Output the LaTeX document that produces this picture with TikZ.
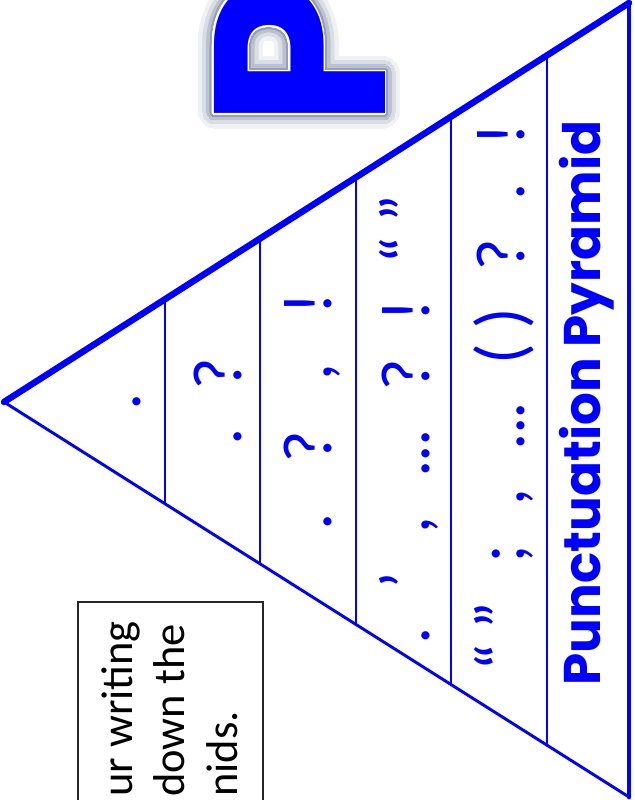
\documentclass[tikz,border=0pt]{standalone}
\usepackage{fontspec}
\usepackage{tikz}
\usetikzlibrary{positioning,calc}
\usepackage[copies]{contour}
\setmainfont{Poppins}
\newfontfamily\markfont{Lato}
\newfontfamily\notefont{Carlito}
\definecolor{pyrblue}{RGB}{0,0,255}
\definecolor{haze}{RGB}{150,160,178}
\contournumber{40}
\newcommand{\gp}{\hspace{0.62em}}
\newcommand{\wgp}{\hspace{0.8em}}

\begin{document}
\begin{tikzpicture}[x=0.03cm, y=-0.03cm, every node/.style={inner sep=0pt},
    rim/.style={draw=pyrblue, line width=5.5pt, line cap=round},
    side/.style={draw=pyrblue, line width=2.5pt, line cap=round},
    tier/.style={draw=pyrblue, line width=2pt},
    notebox/.style={draw=black!85, line width=2pt},
    markrow/.style={rotate=90, anchor=base, text=pyrblue, font=\markfont\fontsize{56}{60}\selectfont},
    bigletter/.style={rotate=90, anchor=base west, font=\fontsize{208}{208}\selectfont\bfseries}]
    \useasboundingbox (0,0) rectangle (635,800);
    \clip (0,0) rectangle (635,800);

    % big P with grey haze
    \node[bigletter, text=haze!15] (pglow) at (385,129) {\contourlength{13pt}\contour{haze!15}{P}};
    \node[bigletter, text=haze!35] (pglow2) at (385,129) {\contourlength{9.5pt}\contour{haze!35}{P}};
    \node[bigletter, text=haze!65] (pglow3) at (385,129) {\contourlength{6pt}\contour{haze!65}{P}};
    \node[bigletter, text=haze] (phaze) at (385,129) {\contourlength{3.2pt}\contour{haze}{P}};
    \node[bigletter, text=pyrblue] (bigp) at (385,129) {\contourlength{1.2pt}\contour{white}{P}};

    % pyramid
    \coordinate (apex) at (4,402);
    \coordinate (topr) at (629,3);
    \coordinate (botr) at (629,797);

    \draw[tier] ($(apex)!0.2576!(topr)$) -- ($(apex)!0.2576!(botr)$);
    \draw[tier] ($(apex)!0.4096!(topr)$) -- ($(apex)!0.4096!(botr)$);
    \draw[tier] ($(apex)!0.5632!(topr)$) -- ($(apex)!0.5632!(botr)$);
    \draw[tier] ($(apex)!0.7152!(topr)$) -- ($(apex)!0.7152!(botr)$);
    \draw[tier] ($(apex)!0.8688!(topr)$) -- ($(apex)!0.8688!(botr)$);

    \draw[side] (apex) -- (botr);
    \draw[side, line width=4pt] (botr) -- (topr);
    \draw[rim] (apex) -- (topr);

    % rows of marks
    \node[markrow] (row1) at (140,402) {.};
    \node[markrow] (row2) at (241,402) {.\gp?};
    \node[markrow] (row3) at (331,412) {.\wgp?\wgp,\wgp!};
    \node[markrow] (row4) at (429,420) {.\gp’\gp,\gp...\gp?\gp!\gp“ ”};
    \node[markrow] (row5) at (524,397) {“ ”\gp;\gp,\gp...\gp( )\gp?\gp.\gp!};

    \node[rotate=90, anchor=base, text=pyrblue, font=\fontsize{44}{44}\selectfont\bfseries] (title) at (600,403) {Punctuation Pyramid};

    % note box, cut by the page edge
    \draw[notebox] (78,602) rectangle (263,840);
    \node[rotate=90, anchor=base west, align=left, font=\notefont\fontsize{38}{44.5}\selectfont] (note) at (237,797) {ur writing\\down the\\nids.};
\end{tikzpicture}
\end{document}
